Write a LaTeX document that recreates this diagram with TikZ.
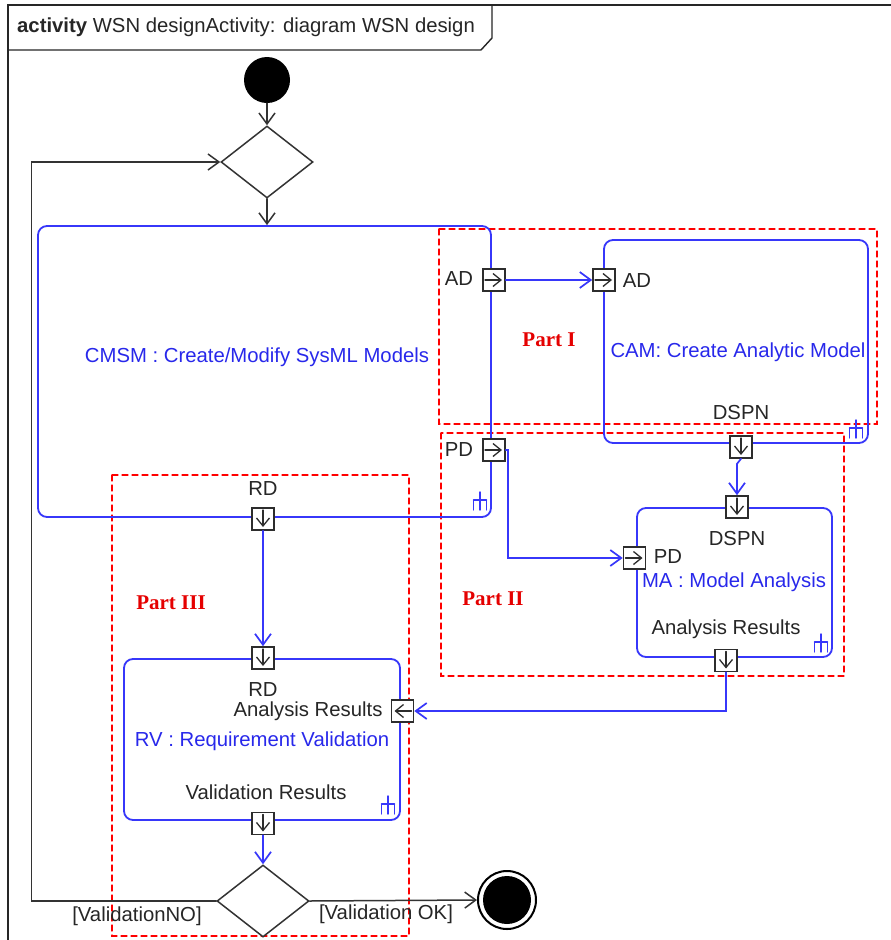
\documentclass[tikz,border=0pt]{standalone}
\usepackage{fontspec}
\setmainfont{Liberation Sans}
\newfontfamily\partfont{Liberation Serif}
\usetikzlibrary{arrows.meta,shapes.geometric}

\definecolor{flowblue}{RGB}{55,55,250}
\definecolor{actblue}{RGB}{40,40,235}
\definecolor{pinline}{RGB}{45,45,45}

\tikzset{
  lbl/.style={font=\fontsize{20.3}{23}\selectfont, inner sep=0pt, text=black!85},
  actname/.style={lbl, text=actblue},
  partlabel/.style={inner sep=0pt, text=red!90!black, font=\partfont\bfseries\fontsize{21}{24}\selectfont},
  action/.style={draw=flowblue, line width=1.8pt, rounded corners=9pt, inner sep=0pt},
  part/.style={draw=red, line width=1.3pt, dash pattern=on 6pt off 4pt},
  flow/.style={draw=flowblue, line width=1.7pt, -{Straight Barb[length=11pt,width=16pt,line width=1.7pt]}},
  ctrl/.style={draw=black!80, line width=1.5pt, -{Straight Barb[length=11pt,width=16pt,line width=1.5pt]}},
  frame/.style={draw=black!85, line width=1.4pt},
  pinbox/.style={draw=pinline, fill=white, line width=1.6pt, minimum size=22pt, inner sep=0pt},
  pinmark/.style={draw=pinline, line width=1.3pt, -{Straight Barb[length=8pt,width=13pt,line width=1.3pt]}},
  pinR/.style={pinbox, path picture={\draw[pinmark] ([xshift=2pt]path picture bounding box.west) -- ([xshift=-3pt]path picture bounding box.east);}},
  pinL/.style={pinbox, path picture={\draw[pinmark] ([xshift=-2pt]path picture bounding box.east) -- ([xshift=3pt]path picture bounding box.west);}},
  pinD/.style={pinbox, path picture={\draw[pinmark] ([yshift=-2pt]path picture bounding box.north) -- ([yshift=3pt]path picture bounding box.south);}},
  decision/.style={diamond, draw=black!80, line width=1.5pt, fill=white, minimum width=92pt, minimum height=72pt, inner sep=0pt},
  rake/.pic={\draw[flowblue, line width=1.4pt] (0,-8) -- (0,10) (-6.5,0) -- (6.5,0) (-6.5,0) -- (-6.5,10) (6.5,0) -- (6.5,10);}
}

\begin{document}
\begin{tikzpicture}[x=1pt, y=-1pt, line cap=round]
  \useasboundingbox[fill=white] (0,0) rectangle (891,940);
  % Frame and header.
  \draw[frame] (8,950) -- (8,5) -- (900,5);
  \draw[frame] (8,50) -- (481,50) -- (492,38) -- (492,5);
  \node[lbl, anchor=west] (title) at (17,27) {\textbf{activity} WSN designActivity: diagram WSN design};

  % Parts.
  \draw[part] (439,229) rectangle (877,424);
  \draw[part] (441,433) rectangle (844,676);
  \draw[part] (112,475) rectangle (409,936);
  \node[partlabel] (p1) at (549,340) {Part I};
  \node[partlabel] (p2) at (493,599) {Part II};
  \node[partlabel] (p3) at (171,603) {Part III};

  % Actions.
  \node[action, minimum width=453pt, minimum height=291pt] (cmsm) at (264.5,371.5) {};
  \node[action, minimum width=264pt, minimum height=203pt] (cam) at (736,341.5) {};
  \node[action, minimum width=195pt, minimum height=149pt] (ma) at (734.5,582.5) {};
  \node[action, minimum width=276pt, minimum height=161pt] (rv) at (262,739.5) {};
  \node[actname] at (257,357) {CMSM : Create/Modify SysML Models};
  \node[actname] at (738,352) {CAM: Create Analytic Model};
  \node[actname] at (734,582) {MA : Model Analysis};
  \node[actname] at (262,741) {RV : Requirement Validation};
  \pic at (480,500) {rake};
  \pic at (856,428) {rake};
  \pic at (821,642) {rake};
  \pic at (388,804) {rake};

  % Pins.
  \node[pinR] (adOut) at (494,280) {};
  \node[pinR] (pdOut) at (494,450) {};
  \node[pinD] (rdOut) at (263,519) {};
  \node[pinR] (adIn) at (604,280) {};
  \node[pinD] (dspnOut) at (741,447) {};
  \node[pinD] (dspnIn) at (737,507) {};
  \node[pinR] (pdIn) at (634.5,558) {};
  \node[pinD] (arOut) at (726,660.5) {};
  \node[pinD] (rdIn) at (263,658) {};
  \node[pinL] (arIn) at (402.5,711) {};
  \node[pinD] (vrOut) at (263,823.5) {};
  \node[lbl] at (459,279) {AD};
  \node[lbl] at (459,450) {PD};
  \node[lbl] at (263,489) {RD};
  \node[lbl] at (637,281) {AD};
  \node[lbl] at (741,413) {DSPN};
  \node[lbl] at (737,539) {DSPN};
  \node[lbl] at (668,557) {PD};
  \node[lbl] at (726,629) {Analysis Results};
  \node[lbl] at (263,690) {RD};
  \node[lbl] at (308,711) {Analysis Results};
  \node[lbl] at (266,792) {Validation Results};

  % Control nodes.
  \node[circle, fill=black, minimum size=46pt, inner sep=0pt] (init) at (267,80) {};
  \node[decision] (dec1) at (267,162) {};
  \node[decision] (dec2) at (263,901) {};
  \node[circle, draw=black, line width=2pt, fill=white, minimum size=58pt, inner sep=0pt] (final) at (507,900) {};
  \fill (final.center) circle (24pt);

  % Object flows.
  \draw[flow] (adOut.east) -- (adIn.west);
  \draw[flow] (pdOut.east) -- ++(2,0) |- (pdIn.west);
  \draw[flow] (dspnOut.south) -- ++(-4,5) -- (dspnIn.north);
  \draw[flow] (arOut.south) |- (arIn.east);
  \draw[flow] (rdOut.south) -- (rdIn.north);
  \draw[flow] (vrOut.south) -- (dec2.north);

  % Control flows.
  \draw[ctrl] (init.south) -- (dec1.north);
  \draw[ctrl] (dec1.south) -- (dec1 |- cmsm.north);
  \draw[ctrl] (dec2.west) -- ++(-185,0) |- (dec1.west);
  \draw[ctrl] (dec2.east) -- (final.west);
  \node[lbl] at (137,916) {[ValidationNO]};
  \node[lbl] at (386,914) {[Validation OK]};
\end{tikzpicture}
\end{document}
